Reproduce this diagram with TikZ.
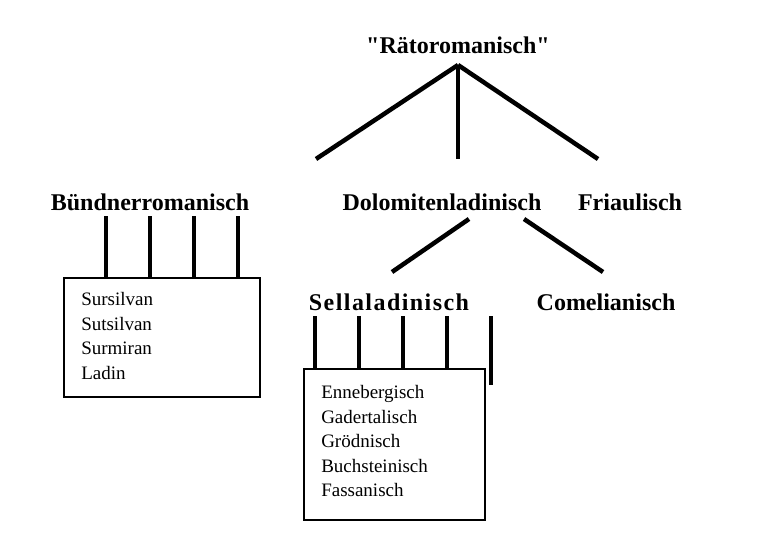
\documentclass[tikz,border=0pt]{standalone}
\usepackage{fontspec}
\setmainfont{Liberation Serif}
\newfontfamily\spacedfont[LetterSpace=6]{Liberation Serif}
\usepackage{tikz}
\usetikzlibrary{positioning}

\begin{document}
\begin{tikzpicture}[x=1pt,y=-1pt,line width=4.5pt]
  \tikzstyle{lang}=[font=\fontsize{24}{28}\selectfont\bfseries,inner sep=0pt]
  \tikzstyle{group}=[draw,line width=2pt,anchor=north west,inner sep=0pt]
  \tikzstyle{members}=[font=\fontsize{19}{24.5}\selectfont,align=left,anchor=west,inner sep=0pt]

  \useasboundingbox (0,0) rectangle (767,532);

  % top
  \node[lang] (rr) at (458,45) {\textquotedbl Rätoromanisch\textquotedbl};
  \coordinate (apex) at (458,65);
  \coordinate (l1) at (316,159);
  \coordinate (l2) at (458,159);
  \coordinate (l3) at (598,159);

  % second level
  \node[lang] (bund) at (150,202) {Bündnerromanisch};
  \node[lang] (dolo) at (442,202) {Dolomitenladinisch};
  \node[lang] (fria) at (630,202) {Friaulisch};
  \coordinate (d1) at (469,219);
  \coordinate (d2) at (392,272);
  \coordinate (d3) at (524,219);
  \coordinate (d4) at (603,272);

  % third level
  \node[lang,font=\fontsize{24}{28}\selectfont\bfseries\spacedfont] (sella) at (389,302) {Sellaladinisch};
  \node[lang] (come) at (606,302) {Comelianisch};

  % boxes
  \node[group,minimum width=196pt,minimum height=119pt] (box1) at (63,277) {};
  \node[members] (list1) at (79,336) {Sursilvan\\Sutsilvan\\Surmiran\\Ladin};
  \node[group,minimum width=181pt,minimum height=151pt] (box2) at (303,368) {};
  \node[members] (list2) at (319,441) {Ennebergisch\\Gadertalisch\\Grödnisch\\Buchsteinisch\\Fassanisch};

  % connectors
  \draw (apex) -- (l1);
  \draw (apex) -- (l2);
  \draw (apex) -- (l3);
  \draw (d1) -- (d2);
  \draw (d3) -- (d4);
  \foreach \x in {106,150,194,238}
    \draw (\x,216) -- (\x,0 |- box1.north);
  \foreach \x in {315,359,403,447}
    \draw (\x,316) -- (\x,0 |- box2.north);
  \draw (491,316) -- (491,385);
\end{tikzpicture}
\end{document}
